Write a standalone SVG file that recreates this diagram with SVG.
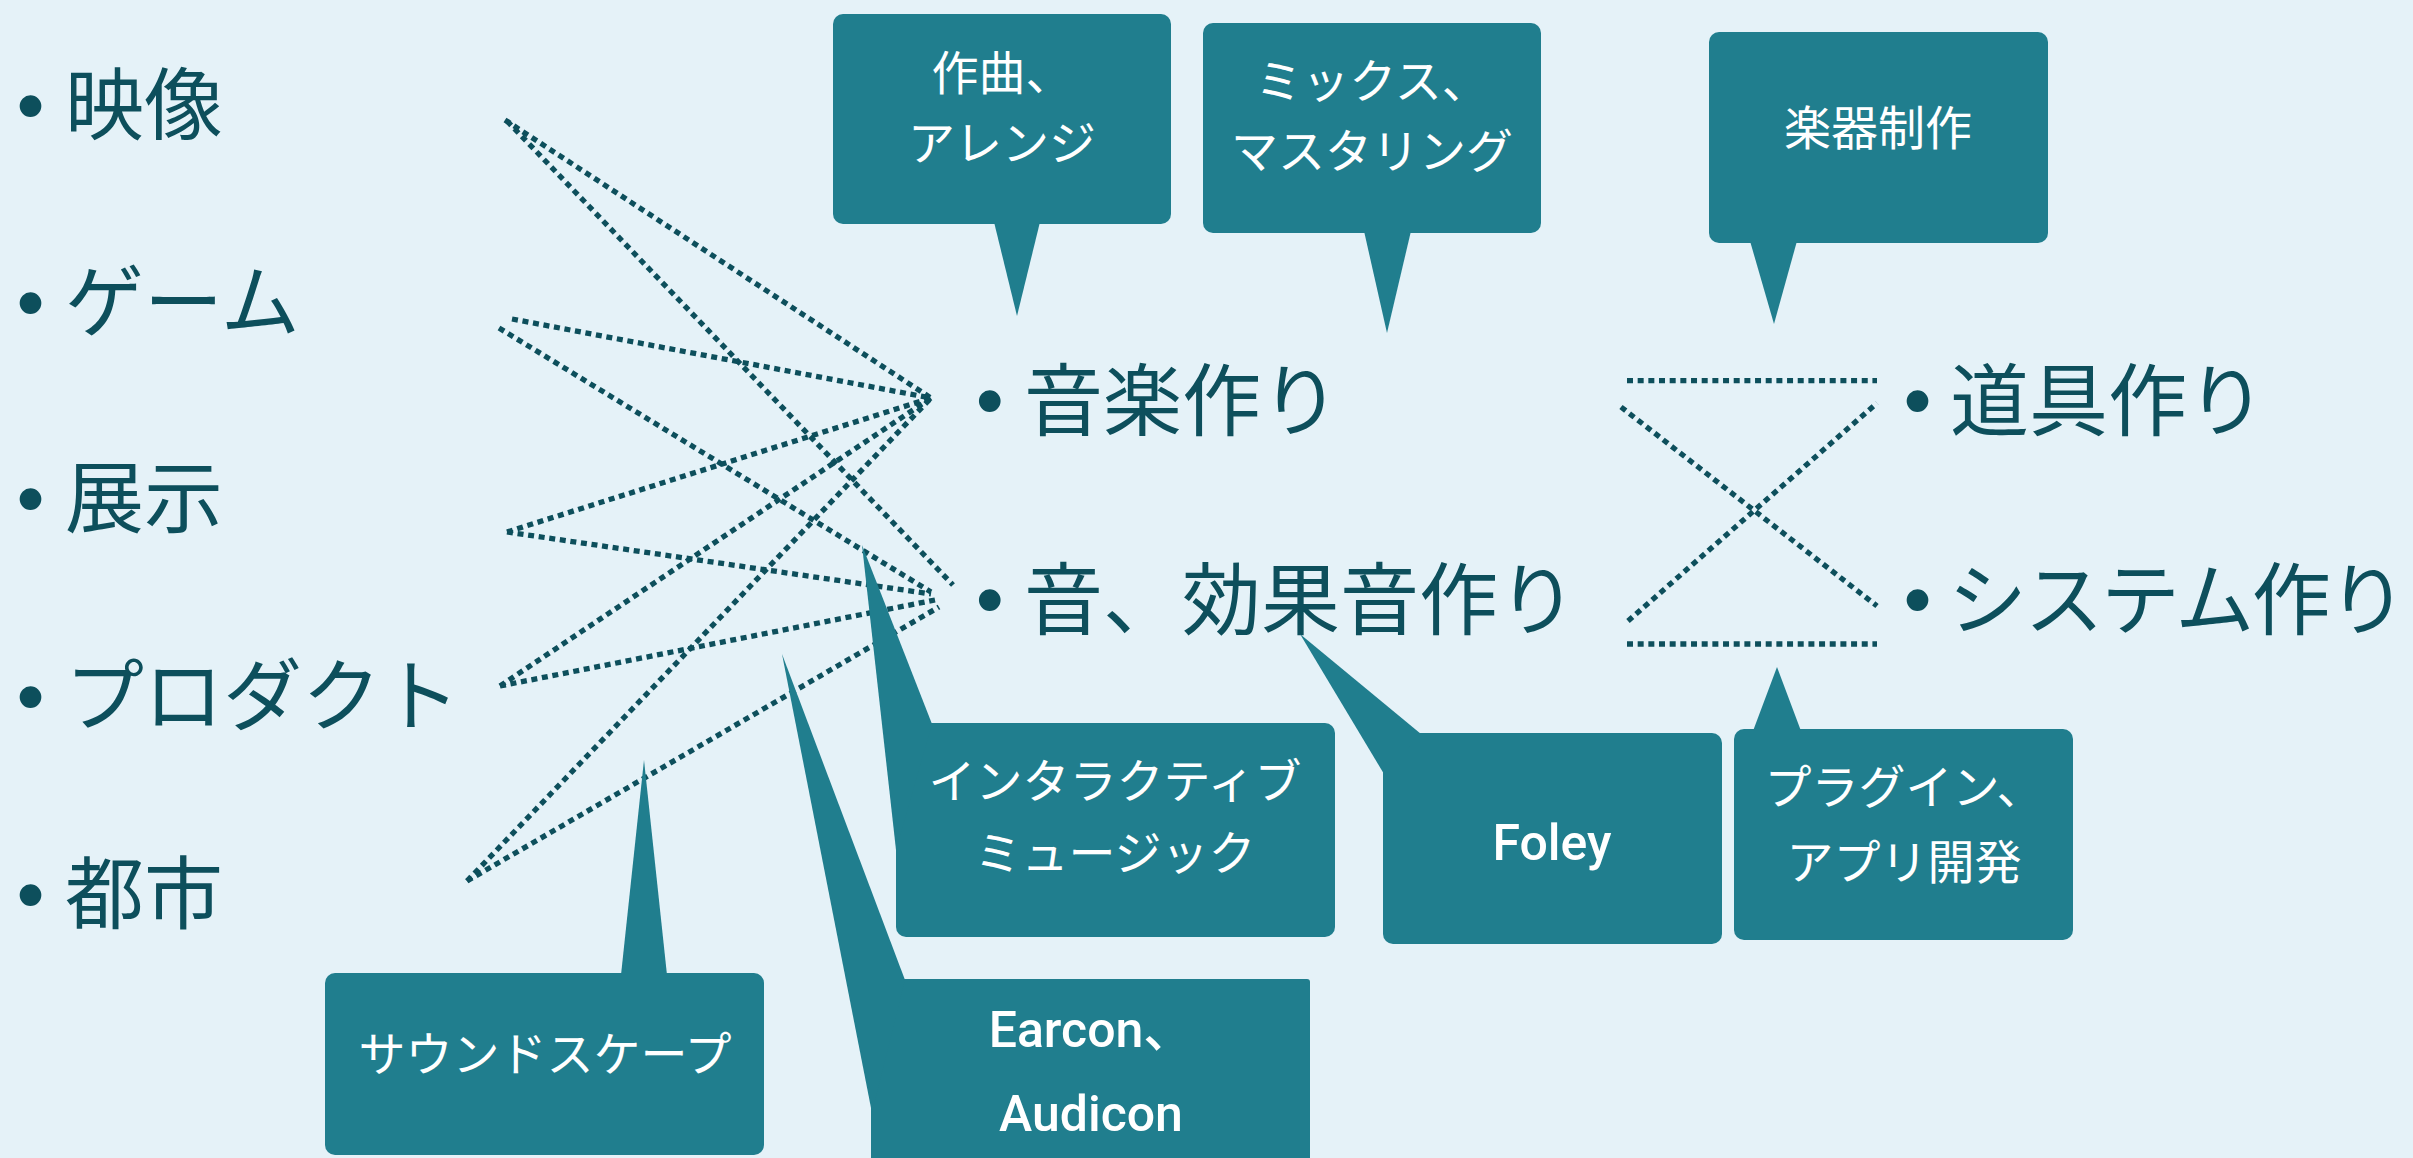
<svg xmlns="http://www.w3.org/2000/svg" width="2413" height="1158" viewBox="0 0 2413 1158">
<defs>
<style>
.bg{fill:#E5F2F8}
.item{font-family:"Noto Sans CJK JP",sans-serif;font-size:79px;fill:#0D4F5C}
.bul{font-family:"Liberation Sans",sans-serif;font-size:80px;fill:#0D4F5C}
.bub{fill:#207E8E}
.bt{font-family:"Noto Sans CJK JP",sans-serif;font-size:47px;fill:#FFFFFF;text-anchor:middle}
.bl{font-family:Roboto,"Noto Sans CJK JP",sans-serif;font-weight:500;font-size:50px;fill:#FFFFFF;text-anchor:middle}
.dot{stroke:#0D4F5C;stroke-width:5.3;stroke-dasharray:6 4.67;fill:none}
</style>
</defs>
<rect class="bg" x="0" y="0" width="2413" height="1158"/>

<g id="connectors">
<line class="dot" x1="505" y1="120" x2="931" y2="398"/>
<line class="dot" x1="507" y1="121" x2="953" y2="585"/>
<line class="dot" x1="512" y1="319" x2="931" y2="398"/>
<line class="dot" x1="499" y1="328" x2="931" y2="592"/>
<line class="dot" x1="507" y1="532" x2="931" y2="398"/>
<line class="dot" x1="507" y1="532" x2="931" y2="594"/>
<line class="dot" x1="500" y1="686" x2="931" y2="398"/>
<line class="dot" x1="500" y1="686" x2="935" y2="600"/>
<line class="dot" x1="467" y1="881" x2="931" y2="398"/>
<line class="dot" x1="467" y1="881" x2="939" y2="607"/>
<line class="dot" x1="1627" y1="380.7" x2="1877" y2="380.7"/>
<line class="dot" x1="1627" y1="644" x2="1877" y2="644"/>
<line class="dot" x1="1621" y1="407" x2="1877" y2="606"/>
<line class="dot" x1="1628" y1="621" x2="1877" y2="403"/>
</g>

<g id="item-eizou"><text class="item"><tspan class="bul" x="16.6" y="133">•</tspan><tspan x="65" y="134">映像</tspan></text></g>
<g id="item-game"><text class="item"><tspan class="bul" x="16.6" y="330">•</tspan><tspan x="65" y="331">ゲーム</tspan></text></g>
<g id="item-tenji"><text class="item"><tspan class="bul" x="16.6" y="526">•</tspan><tspan x="65" y="527">展示</tspan></text></g>
<g id="item-product"><text class="item"><tspan class="bul" x="16.6" y="724">•</tspan><tspan x="65" y="725">プロダクト</tspan></text></g>
<g id="item-toshi"><text class="item"><tspan class="bul" x="16.6" y="922">•</tspan><tspan x="65" y="923">都市</tspan></text></g>

<g id="item-ongaku"><text class="item"><tspan class="bul" x="975.8" y="428">•</tspan><tspan x="1024" y="430">音楽作り</tspan></text></g>
<g id="item-oto"><text class="item"><tspan class="bul" x="975.8" y="627">•</tspan><tspan x="1024" y="629">音、効果音作り</tspan></text></g>
<g id="item-dougu"><text class="item"><tspan class="bul" x="1903.6" y="428">•</tspan><tspan x="1950" y="430">道具作り</tspan></text></g>
<g id="item-system"><text class="item"><tspan class="bul" x="1903.6" y="627">•</tspan><tspan x="1948" y="629" letter-spacing="-2.5">システム作り</tspan></text></g>

<g id="callout-sakkyoku">
<rect class="bub" x="833" y="14" width="338" height="210" rx="10"/>
<polygon class="bub" points="994,222 1040,222 1017,316"/>
<text class="bt" x="1002" y="90">作曲、</text>
<text class="bt" x="1002" y="160">アレンジ</text>
</g>
<g id="callout-mix">
<rect class="bub" x="1203" y="23" width="338" height="210" rx="10"/>
<polygon class="bub" points="1364,231 1411,231 1387,333"/>
<text class="bt" x="1372" y="98">ミックス、</text>
<text class="bt" x="1372" y="168">マスタリング</text>
</g>
<g id="callout-gakki">
<rect class="bub" x="1709" y="32" width="339" height="211" rx="10"/>
<polygon class="bub" points="1750,241 1797,241 1774,324"/>
<text class="bt" x="1878" y="145">楽器制作</text>
</g>
<g id="callout-interactive">
<rect class="bub" x="896" y="723" width="439" height="214" rx="10"/>
<polygon class="bub" points="932,724 862,545 896,850"/>
<text class="bt" x="1115" y="798">インタラクティブ</text>
<text class="bt" x="1115" y="870">ミュージック</text>
</g>
<g id="callout-foley">
<rect class="bub" x="1383" y="733" width="339" height="211" rx="10"/>
<polygon class="bub" points="1421,734 1300,634 1384,774"/>
<text class="bl" x="1552" y="860">Foley</text>
</g>
<g id="callout-plugin">
<rect class="bub" x="1734" y="729" width="339" height="211" rx="10"/>
<polygon class="bub" points="1753,731 1801,731 1777,667"/>
<text class="bt" x="1904" y="804">プラグイン、</text>
<text class="bt" x="1904" y="879">アプリ開発</text>
</g>
<g id="callout-soundscape">
<rect class="bub" x="325" y="973" width="439" height="182" rx="10"/>
<polygon class="bub" points="621,975 667,975 644,760"/>
<text class="bt" x="545" y="1071">サウンドスケープ</text>
</g>
<g id="callout-earcon">
<rect class="bub" x="871" y="979" width="439" height="185" rx="3"/>
<polygon class="bub" points="905,980 782,654 872,1113"/>
<text class="bl" x="1091" y="1047">Earcon、</text>
<text class="bl" x="1091" y="1131">Audicon</text>
</g>
</svg>
